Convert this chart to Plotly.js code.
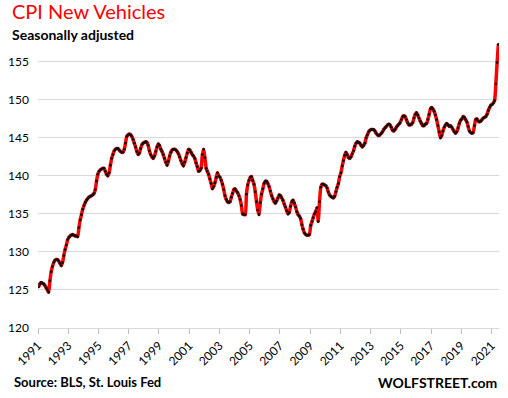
<!DOCTYPE html>
<html>
<head>
<meta charset="utf-8">
<script src="https://cdn.plot.ly/plotly-3.0.1.min.js"></script>
<style>html,body{margin:0;padding:0;background:#fff;}#chart{width:508px;height:398px;}</style>
</head>
<body>
<div id="chart"></div>
<script>
// CPI New Vehicles, seasonally adjusted, monthly from Jan 1991 to Jun 2021
const startYear = 1991;
const cpi = [
  // 1991
  125.4, 125.8, 126.0, 125.9, 125.8, 125.6, 125.3, 125.0, 124.7, 126.2, 127.4, 128.1,
  // 1992
  128.6, 128.9, 129.0, 129.0, 128.8, 128.5, 128.2, 128.6, 129.5, 130.3, 130.9, 131.6,
  // 1993
  131.9, 132.1, 132.2, 132.3, 132.2, 132.1, 132.1, 132.0, 133.2, 134.2, 134.9, 135.6,
  // 1994
  136.1, 136.5, 136.8, 137.0, 137.2, 137.3, 137.4, 137.5, 137.7, 138.2, 139.3, 140.2,
  // 1995
  140.6, 140.8, 140.9, 141.0, 141.0, 140.6, 140.2, 140.0, 140.4, 141.4, 142.3, 142.8,
  // 1996
  143.3, 143.5, 143.6, 143.6, 143.4, 143.2, 143.1, 143.1, 143.5, 144.3, 145.2, 145.4,
  // 1997
  145.5, 145.4, 145.2, 144.8, 144.3, 143.8, 143.2, 142.8, 143.0, 143.6, 144.1, 144.3,
  // 1998
  144.4, 144.5, 144.4, 144.0, 143.3, 142.8, 142.5, 142.3, 142.6, 143.2, 143.8, 144.2,
  // 1999
  144.0, 143.5, 143.2, 142.8, 142.3, 141.8, 141.4, 141.9, 142.6, 143.1, 143.4, 143.5,
  // 2000
  143.5, 143.4, 143.2, 142.9, 142.5, 142.0, 141.6, 141.3, 141.8, 142.4, 143.0, 143.5,
  // 2001
  143.4, 143.1, 142.8, 142.6, 142.3, 141.7, 141.2, 140.6, 140.7, 141.0, 142.8, 143.5,
  // 2002
  142.4, 141.0, 140.6, 140.2, 139.6, 139.0, 138.3, 138.6, 139.1, 139.8, 140.4, 140.0,
  // 2003
  139.8, 139.4, 138.9, 138.2, 137.4, 136.9, 136.6, 136.5, 136.6, 137.2, 137.7, 138.2,
  // 2004
  138.3, 138.0, 137.8, 137.4, 136.9, 136.1, 135.0, 134.9, 134.9, 137.6, 138.8, 139.4,
  // 2005
  139.8, 139.9, 139.4, 138.9, 137.9, 136.6, 135.5, 134.9, 136.5, 137.6, 138.3, 139.0,
  // 2006
  139.3, 139.3, 139.0, 138.6, 138.0, 137.4, 137.0, 136.6, 136.4, 136.7, 137.1, 137.5,
  // 2007
  137.4, 137.1, 136.8, 136.3, 135.9, 135.4, 135.0, 135.2, 136.0, 136.6, 136.8, 136.4,
  // 2008
  135.9, 135.3, 134.9, 134.7, 134.4, 133.6, 133.0, 132.5, 132.3, 132.2, 132.2, 132.3,
  // 2009
  133.5, 134.0, 134.5, 135.0, 135.3, 135.8, 134.0, 136.6, 138.5, 138.9, 138.9, 138.8,
  // 2010
  138.7, 138.4, 137.9, 137.5, 137.3, 137.2, 137.1, 137.3, 137.9, 138.5, 139.0, 139.9,
  // 2011
  140.4, 141.3, 142.0, 142.7, 143.1, 142.8, 142.4, 142.3, 142.5, 142.9, 143.3, 143.9,
  // 2012
  144.3, 144.5, 144.4, 144.3, 144.0, 143.8, 144.0, 144.3, 145.0, 145.4, 145.8, 146.0,
  // 2013
  146.1, 146.1, 146.1, 145.9, 145.6, 145.4, 145.3, 145.4, 145.6, 145.8, 146.1, 146.3,
  // 2014
  146.5, 146.7, 146.8, 146.7, 146.4, 146.0, 145.9, 146.1, 146.4, 146.6, 146.8, 147.0,
  // 2015
  147.4, 147.8, 147.9, 147.8, 147.4, 147.0, 146.7, 146.7, 146.8, 147.0, 147.6, 148.1,
  // 2016
  148.3, 148.0, 147.6, 147.2, 146.9, 146.6, 146.6, 146.8, 146.9, 147.4, 148.1, 148.8,
  // 2017
  149.0, 148.8, 148.5, 148.0, 147.4, 146.6, 145.8, 145.0, 145.3, 145.9, 146.4, 146.7,
  // 2018
  146.9, 146.7, 146.5, 146.6, 146.4, 146.1, 145.8, 145.6, 145.8, 146.3, 146.9, 147.3,
  // 2019
  147.5, 147.8, 147.7, 147.4, 147.1, 146.5, 145.9, 145.7, 145.6, 145.7, 146.6, 147.4,
  // 2020
  147.5, 147.2, 147.1, 147.2, 147.4, 147.6, 147.7, 147.8, 148.1, 148.6, 149.0, 149.3,
  // 2021
  149.4, 149.6, 149.9, 152.1, 154.9, 157.3
];
const tickYears = [1991, 1993, 1995, 1997, 1999, 2001, 2003, 2005, 2007, 2009, 2011, 2013, 2015, 2017, 2019, 2021];
const yTicks = [120, 125, 130, 135, 140, 145, 150, 155];
const titleText = 'CPI New Vehicles';
const subtitleText = 'Seasonally adjusted';
const sourceText = 'Source: BLS, St. Louis Fed';
const brandText = 'WOLFSTREET.com';

const pad = n => (n < 10 ? '0' + n : '' + n);
const dates = cpi.map((v, i) => {
  const y = startYear + Math.floor(i / 12);
  const m = (i % 12) + 1;
  return y + '-' + pad(m) + '-16';
});

const FONT = 'Lato, "Open Sans", "DejaVu Sans", sans-serif';

const trace = {
  x: dates,
  y: cpi,
  type: 'scatter',
  mode: 'lines+markers',
  line: {color: '#ff0000', width: 3.5, shape: 'spline', smoothing: 0.6},
  marker: {color: '#111111', size: 2.8},
  hoverinfo: 'x+y'
};

const layout = {
  width: 508,
  height: 398,
  margin: {l: 38, r: 9, t: 39, b: 70},
  paper_bgcolor: '#ffffff',
  plot_bgcolor: '#ffffff',
  showlegend: false,
  font: {family: FONT, color: '#000000', size: 12},
  xaxis: {
    type: 'date',
    range: ['1991-01-01', '2021-07-01'],
    tickmode: 'array',
    tickvals: tickYears.map(y => y + '-01-01'),
    ticktext: tickYears.map(String),
    tickangle: -45,
    ticks: 'outside',
    ticklen: 5,
    tickcolor: '#bfbfbf',
    showgrid: false,
    zeroline: false,
    showline: true,
    linecolor: '#d9d9d9',
    linewidth: 1,
    tickfont: {family: FONT, size: 12, color: '#000000'}
  },
  yaxis: {
    range: [120, 158],
    tickmode: 'array',
    tickvals: yTicks,
    ticktext: yTicks.map(String),
    showgrid: true,
    gridcolor: '#d9d9d9',
    gridwidth: 1,
    zeroline: false,
    showline: false,
    ticks: '',
    ticklabelstandoff: 8,
    tickfont: {family: FONT, size: 12, color: '#000000'}
  },
  annotations: [
    {text: titleText, xref: 'paper', yref: 'paper', x: -0.06, y: 1.0, xanchor: 'left', yanchor: 'bottom',
     yshift: 14, showarrow: false, font: {family: FONT, size: 20, color: '#ff0000'}},
    {text: '<b>' + subtitleText + '</b>', xref: 'paper', yref: 'paper', x: -0.06, y: 1.0, xanchor: 'left', yanchor: 'bottom',
     yshift: -6, showarrow: false, font: {family: FONT, size: 14, color: '#000000'}},
    {text: '<b>' + sourceText + '</b>', xref: 'paper', yref: 'paper', x: -0.057, y: 0, xanchor: 'left', yanchor: 'top',
     yshift: -44, showarrow: false, font: {family: FONT, size: 13, color: '#000000'}},
    {text: '<b>' + brandText + '</b>', xref: 'paper', yref: 'paper', x: 1.0, y: 0, xanchor: 'right', yanchor: 'top',
     yshift: -44, showarrow: false, font: {family: FONT, size: 14, color: '#000000'}}
  ]
};

Plotly.newPlot('chart', [trace], layout, {displayModeBar: false, staticPlot: true});
</script>
</body>
</html>
